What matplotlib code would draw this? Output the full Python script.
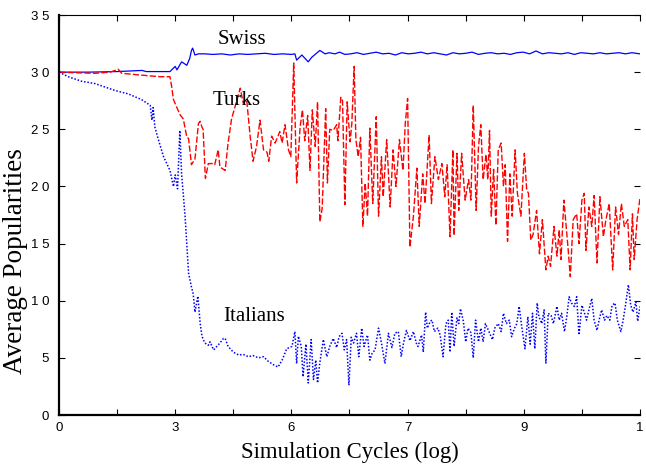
import matplotlib
matplotlib.use("Agg")
import matplotlib.pyplot as plt

# ============================
# Data (x = simulation cycles, scaled 0..100; y = average popularity)
# ============================
swiss_x = [0, 5.0, 10.0, 14.3, 15.0, 18.2, 19.1, 20.0, 20.3, 21.1, 22.0, 22.5, 22.8, 23.0, 23.4,
           24.0, 25.1, 26.5, 28.0, 29.5, 31.0, 32.5, 34.0, 35.5, 37.0, 38.5, 40.0, 40.6, 40.9,
           41.8, 42.9, 43.5, 44.9, 45.8, 46.5, 47.5, 48.3, 49.2, 50.2, 51.3, 52.4, 53.5, 54.6,
           55.7, 56.8, 57.9, 59.0, 60.1, 61.2, 62.3, 63.4, 64.5, 65.6, 66.7, 67.8, 68.9, 70.0,
           71.1, 72.2, 73.3, 74.4, 75.5, 76.6, 77.7, 78.8, 79.9, 81.0, 82.1, 83.2, 84.3, 85.4,
           86.5, 87.6, 88.7, 89.8, 90.9, 92.0, 93.1, 94.2, 95.3, 96.4, 97.5, 98.6, 100]
swiss_y = [30.0, 30.0, 30.05, 30.15, 30.05, 30.05, 30.05, 30.5, 30.2, 30.9, 30.6, 31.2, 31.9, 32.1, 31.5,
           31.6, 31.6, 31.55, 31.6, 31.5, 31.6, 31.55, 31.6, 31.65, 31.55, 31.6, 31.55, 31.6, 31.05,
           31.5, 30.9, 31.3, 31.9, 31.6, 31.7, 31.6, 31.75, 31.55, 31.6, 31.7, 31.55, 31.65, 31.75,
           31.6, 31.65, 31.5, 31.7, 31.6, 31.65, 31.75, 31.6, 31.7, 31.6, 31.5, 31.7, 31.6, 31.65,
           31.75, 31.55, 31.65, 31.7, 31.6, 31.65, 31.55, 31.7, 31.75, 31.6, 31.85, 31.6, 31.7, 31.65,
           31.6, 31.7, 31.55, 31.7, 31.65, 31.6, 31.7, 31.6, 31.65, 31.7, 31.6, 31.7, 31.6]

turks_x = [0, 2.75, 6.2, 8.8, 10.2, 10.8, 13.9, 17.4, 19.1, 19.4, 19.7, 20.3, 20.8, 21.4, 22.0,
           22.3, 22.8, 23.4, 24.0, 24.3, 24.6, 24.8, 25.2, 25.7, 26.6, 26.8, 27.4, 27.7, 28.6,
           29.1, 29.7, 30.6, 31.2, 31.7, 32.3, 32.9, 33.4, 34.0, 34.6, 35.2, 35.8, 36.1, 36.6,
           37.2, 37.7, 38.0, 38.4, 38.9, 39.5, 39.9, 40.4, 40.9, 41.5, 41.9, 42.3, 42.8, 43.2,
           43.6, 44.1, 44.5, 44.9, 45.3, 45.9, 46.2, 46.6, 47.2, 47.8, 48.0, 48.5, 48.8, 49.2,
           49.6, 50.1, 50.4, 50.8, 51.1, 51.5, 51.9, 52.3, 52.7, 53.1, 53.5, 54.0, 54.6, 55.0,
           55.5, 55.8, 56.4, 57.0, 57.5, 58.0, 58.6, 59.2, 59.6, 60.0, 60.4, 61.0, 61.6, 62.0,
           62.6, 63.0, 63.7, 64.1, 64.7, 65.3, 65.9, 66.4, 66.8, 67.3, 67.8, 68.0, 68.5, 68.8,
           69.3, 69.9, 70.5, 70.9, 71.3, 71.8, 72.2, 72.6, 73.0, 73.5, 73.8, 74.1, 74.4, 74.8,
           75.2, 75.6, 76.1, 76.5, 76.8, 77.2, 77.6, 78.0, 78.5, 78.9, 79.5, 80.1, 80.5, 80.8,
           81.2, 81.6, 82.2, 82.7, 83.2, 83.8, 84.2, 84.6, 85.2, 85.7, 86.1, 86.4, 86.9, 87.6,
           88.0, 88.5, 89.1, 89.5, 90.0, 90.4, 90.7, 91.2, 91.7, 92.1, 92.6, 93.1, 93.7, 94.1,
           94.7, 95.3, 95.8, 96.3, 96.8, 97.3, 97.9, 98.3, 98.7, 99.0, 99.5, 100]
turks_y = [30.0, 29.95, 29.9, 30.0, 30.25, 29.9, 29.75, 29.6, 29.6, 28.7, 27.6, 26.9, 26.3, 25.9, 24.3,
           24.2, 21.9, 22.4, 25.5, 25.7, 25.2, 25.0, 20.7, 22.0, 22.0, 21.9, 23.2, 21.7, 21.4,
           23.8, 25.9, 27.5, 28.6, 27.3, 27.6, 24.4, 22.2, 23.5, 25.8, 23.2, 23.0, 22.2, 24.4,
           23.8, 24.4, 24.8, 23.8, 25.4, 23.2, 22.6, 30.8, 20.3, 25.2, 26.7, 24.0, 26.2, 21.4,
           26.7, 23.5, 27.4, 16.9, 18.1, 26.8, 20.3, 25.0, 24.9, 25.4, 24.0, 27.8, 27.5, 18.4,
           27.4, 23.9, 25.5, 30.5, 24.1, 22.6, 24.3, 16.5, 20.3, 17.4, 25.1, 18.5, 26.1, 17.4,
           22.6, 19.1, 24.1, 18.2, 23.2, 20.0, 24.1, 21.4, 25.5, 27.7, 14.7, 17.4, 21.6, 16.5,
           21.1, 18.5, 24.5, 18.5, 22.6, 20.6, 22.0, 19.1, 21.9, 15.6, 23.2, 15.7, 22.9, 17.9,
           22.9, 18.8, 20.6, 18.8, 27.1, 17.9, 23.5, 25.4, 20.6, 22.8, 20.6, 24.9, 17.4, 21.5,
           16.6, 23.2, 23.8, 20.0, 21.9, 15.2, 21.1, 17.4, 23.2, 19.4, 17.4, 22.9, 19.7, 19.4,
           15.3, 15.8, 17.9, 14.1, 17.1, 12.7, 13.9, 13.0, 16.5, 13.9, 16.2, 13.6, 18.8, 14.7,
           12.1, 17.1, 17.6, 15.0, 18.8, 19.4, 14.4, 18.2, 16.5, 19.2, 13.3, 19.1, 15.6, 17.0,
           18.5, 12.7, 18.2, 15.8, 18.5, 16.5, 17.1, 12.7, 17.6, 13.6, 17.1, 19.0]

italians_x = [0, 1.6, 3.9, 6.2, 9.6, 11.9, 14.2, 15.7, 16.0, 16.2, 16.5, 17.1, 18.0, 19.1, 19.7,
              20.0, 20.4, 20.8, 21.1, 21.7, 22.3, 22.8, 23.1, 23.4, 23.9, 24.3, 24.6, 25.1, 25.7,
              26.0, 26.6, 26.8, 27.7, 28.3, 28.6, 29.1, 30.0, 30.9, 31.7, 32.6, 33.4, 34.3, 35.2,
              36.0, 36.9, 37.7, 38.4, 39.2, 40.1, 40.6, 40.9, 41.2, 41.7, 42.0, 42.5, 42.9, 43.4,
              43.8, 44.2, 44.5, 44.9, 45.5, 46.1, 46.6, 47.2, 47.8, 48.2, 48.7, 49.1, 49.5, 49.9,
              50.3, 50.7, 51.2, 51.6, 52.1, 52.5, 53.1, 53.5, 53.9, 54.4, 55.0, 55.5, 56.1, 56.7,
              57.3, 57.8, 58.4, 58.9, 59.3, 59.8, 60.4, 61.0, 61.6, 61.8, 62.4, 62.7, 63.1, 63.4,
              63.9, 64.2, 64.6, 65.2, 65.6, 66.1, 66.6, 67.0, 67.3, 67.6, 68.0, 68.5, 68.8, 69.1,
              69.6, 70.0, 70.4, 70.9, 71.3, 71.7, 72.2, 72.6, 73.0, 73.4, 74.0, 74.6, 75.0, 75.6,
              76.1, 76.5, 77.0, 77.5, 77.9, 78.4, 78.8, 79.2, 79.6, 80.2, 80.7, 81.1, 81.5, 81.9,
              82.3, 82.6, 83.1, 83.5, 83.8, 84.2, 84.7, 85.1, 85.7, 86.1, 86.5, 87.0, 87.4, 87.8,
              88.2, 88.7, 89.1, 89.5, 90.0, 90.4, 90.8, 91.2, 91.7, 92.1, 92.6, 93.0, 93.4, 93.9,
              94.3, 94.8, 95.2, 95.7, 96.1, 96.7, 97.1, 97.5, 98.0, 98.4, 98.8, 99.3, 99.6, 100]
italians_y = [30.0, 29.6, 29.2, 29.0, 28.4, 28.1, 27.6, 27.1, 25.8, 26.9, 25.2, 24.1, 22.6, 21.4, 20.0,
              21.0, 19.8, 24.9, 21.1, 17.4, 12.4, 11.2, 10.6, 9.0, 10.4, 8.0, 6.9, 6.3, 6.1,
              6.4, 5.7, 5.8, 6.3, 6.7, 6.7, 6.0, 5.5, 5.25, 5.3, 5.1, 5.2, 5.0, 5.1,
              4.7, 4.4, 4.2, 4.8, 5.8, 6.0, 7.3, 4.5, 6.9, 6.0, 3.35, 6.2, 2.8, 6.6,
              3.1, 4.8, 2.8, 4.6, 6.6, 5.1, 6.0, 6.7, 5.9, 6.85, 7.15, 5.7, 6.6, 2.6,
              6.8, 6.3, 7.15, 5.1, 7.6, 6.0, 7.0, 4.8, 5.4, 5.7, 7.6, 6.3, 4.5, 7.15,
              5.9, 7.15, 7.3, 5.1, 6.3, 7.4, 6.5, 7.3, 6.1, 6.0, 7.0, 5.5, 9.0, 7.6,
              8.2, 8.3, 7.3, 7.6, 7.0, 5.1, 8.0, 8.3, 5.5, 9.0, 6.0, 8.5, 8.0, 9.3,
              8.2, 6.4, 7.6, 7.2, 5.0, 8.3, 6.4, 7.6, 6.4, 8.0, 7.3, 6.6, 7.6, 8.0,
              7.3, 8.9, 8.0, 8.3, 6.85, 7.6, 8.0, 9.5, 7.9, 5.8, 8.6, 6.2, 8.9, 5.8,
              9.8, 8.6, 8.0, 9.2, 4.5, 8.9, 8.7, 8.0, 9.5, 8.3, 8.9, 7.3, 8.6, 10.35,
              9.8, 9.5, 10.35, 7.0, 9.6, 9.0, 8.3, 9.2, 10.2, 8.3, 7.4, 8.4, 9.2, 8.3,
              8.7, 8.3, 9.6, 9.8, 8.3, 7.3, 8.3, 9.6, 11.4, 9.6, 9.0, 9.9, 8.2, 9.5]

x_ticks = [0, 10, 20, 30, 40, 50, 60, 70, 80, 90, 100]
x_tick_labels = ["0", "", "3", "", "6", "", "7", "", "9", "", "1"]
y_ticks = [0, 5, 10, 15, 20, 25, 30, 35]
y_tick_labels = ["0", "5", "1 0", "1 5", "2 0", "2 5", "3 0", "3 5"]

# ============================
# Plot
# ============================
fig = plt.figure(figsize=(6.46, 4.66), dpi=100)
ax = fig.add_axes([59 / 646, 51 / 466, 581 / 646, 400 / 466])

ax.plot(swiss_x, swiss_y, color="#0000ff", lw=0.9, ls="-")
turks_line, = ax.plot(turks_x, turks_y, color="#ff0000", lw=1.0)
turks_line.set_dashes([4.5, 1.6])
ital_line, = ax.plot(italians_x, italians_y, color="#0000ff", lw=1.1)
ital_line.set_dashes([1.0, 1.2])

ax.set_xlim(0, 100)
ax.set_ylim(0, 35)

tick_font = {"family": ["Liberation Sans Narrow", "Liberation Sans"], "size": 9.5}
ax.set_xticks(x_ticks)
ax.set_xticklabels(x_tick_labels, fontdict=tick_font)
ax.set_yticks(y_ticks)
ax.set_yticklabels(y_tick_labels, fontdict=tick_font)
ax.tick_params(direction="in", length=4, width=0.8, top=True, right=True)
ax.tick_params(axis="y", pad=7)
ax.tick_params(axis="x", pad=5)

ax.spines["right"].set_visible(False)
ax.spines["left"].set_linewidth(1.6)
ax.spines["bottom"].set_linewidth(1.6)
ax.spines["top"].set_linewidth(0.8)

serif = ["Liberation Serif", "DejaVu Serif"]
ax.text(31.5, 32.5, "Swiss", family=serif, fontsize=15, ha="center", va="baseline")
ax.text(30.6, 27.1, "Turks", family=serif, fontsize=15, ha="center", va="baseline")
ax.text(33.6, 8.2, "Italians", family=serif, fontsize=15, ha="center", va="baseline")

fig.text(349.5 / 646, (466 - 458) / 466, "Simulation Cycles (log)", family=serif,
         fontsize=16.4, ha="center", va="baseline")
fig.text(16 / 646, (466 - 261) / 466, "Average Popularities", family=serif,
         fontsize=19.5, ha="center", va="center", rotation=90)

fig.savefig("out.png", dpi=100)
